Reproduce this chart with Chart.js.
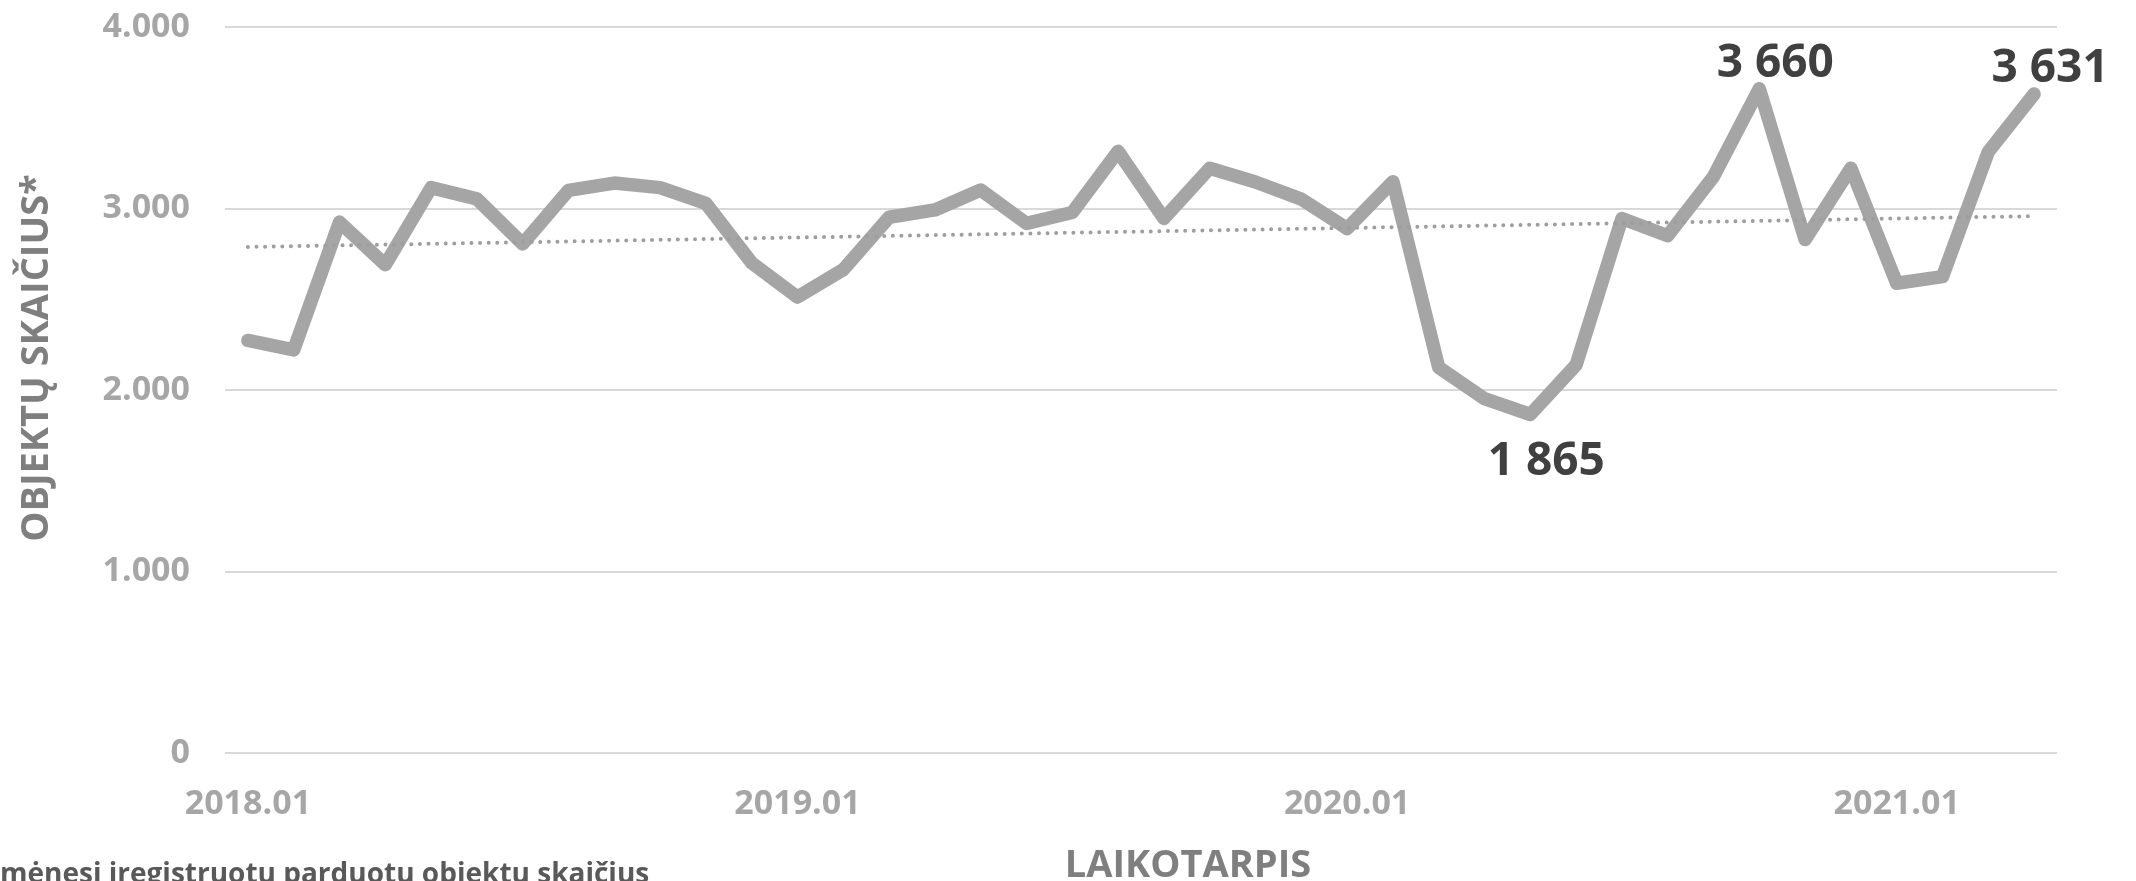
<!DOCTYPE html>
<html lang="lt">
<head>
<meta charset="utf-8">
<title>Objektų skaičius</title>
<script src="https://cdn.jsdelivr.net/npm/chart.js@4.4.1/dist/chart.umd.min.js"></script>
<style>
  html, body { margin: 0; padding: 0; background: #fff; }
  #wrap { width: 2136px; height: 881px; }
</style>
</head>
<body>
<div id="wrap"><canvas id="objektaiChart" width="2136" height="881"></canvas></div>
<script>
// ================================================
//  Per mėnesį įregistruotų parduotų objektų skaičius
// ================================================

const MENESIAI = [
    '2018.01', '2018.02', '2018.03', '2018.04', '2018.05', '2018.06',
    '2018.07', '2018.08', '2018.09', '2018.10', '2018.11', '2018.12',
    '2019.01', '2019.02', '2019.03', '2019.04', '2019.05', '2019.06',
    '2019.07', '2019.08', '2019.09', '2019.10', '2019.11', '2019.12',
    '2020.01', '2020.02', '2020.03', '2020.04', '2020.05', '2020.06',
    '2020.07', '2020.08', '2020.09', '2020.10', '2020.11', '2020.12',
    '2021.01', '2021.02', '2021.03', '2021.04'
];

const OBJEKTAI = [
    2273, 2221, 2925, 2690, 3115, 3053, 2805, 3100, 3140, 3115, 3028, 2700,
    2512, 2663, 2952, 2992, 3102, 2918, 2978, 3315, 2945, 3222, 3146, 3052,
    2890, 3148, 2125, 1952, 1865, 2138, 2945, 2850, 3176, 3660, 2829, 3222,
    2588, 2625, 3312, 3631
];

// linijinio trendo pradžia ir pabaiga (taškinė linija)
const TRENDAS = [2788, 2958];

// taškai, prie kurių parašyta reikšmė
const ZYMIMI = [28, 33, 39];

const Y_MIN = 0, Y_MAX = 4000, Y_ZINGSNIS = 1000;

const SPALVA_LINIJA = '#a5a5a5';
const SPALVA_ASIS   = '#a6a6a6';
const SPALVA_PAV    = '#7f7f7f';

const tukst = (v, sep) => String(v).replace(/\B(?=(\d{3})+(?!\d))/g, sep);

// ------------------------------------------------
// Reikšmių užrašai ir ašių pavadinimai
// ------------------------------------------------
const zymesPlugin = {
    id: 'zymes',
    afterDatasetsDraw(chart) {
        const ctx = chart.ctx;
        const meta = chart.getDatasetMeta(0);
        ctx.save();
        ctx.font = 'bold 46px "Open Sans"';
        ctx.fillStyle = '#404040';
        ctx.textAlign = 'center';
        ctx.textBaseline = 'alphabetic';
        ZYMIMI.forEach(i => {
            const pt = meta.data[i];
            const v = OBJEKTAI[i];
            const zemiau = i > 0 && i < OBJEKTAI.length - 1 &&
                v < OBJEKTAI[i - 1] && v < OBJEKTAI[i + 1];
            ctx.fillText(tukst(v, ' '), pt.x + 16, zemiau ? pt.y + 60 : pt.y - 12);
        });
        ctx.restore();
    },
    afterDraw(chart) {
        const ctx = chart.ctx;
        ctx.save();
        ctx.fillStyle = SPALVA_PAV;
        ctx.font = 'bold 38px "Open Sans"';
        ctx.textAlign = 'center';

        // Y ašies pavadinimas
        ctx.save();
        ctx.translate(37, 358);
        ctx.rotate(-Math.PI / 2);
        ctx.textBaseline = 'middle';
        ctx.fillText('OBJEKTŲ SKAIČIUS*', 0, 0);
        ctx.restore();

        // X ašies pavadinimas
        ctx.textBaseline = 'alphabetic';
        ctx.fillText('LAIKOTARPIS', 1188, 877);

        // išnaša (apkirpta kairėje ir apačioje)
        ctx.font = 'bold 28px "Open Sans"';
        ctx.fillStyle = '#595959';
        ctx.textAlign = 'left';
        ctx.fillText('mėnesį įregistruotų parduotų objektų skaičius', 0, 883);
        ctx.restore();
    }
};

// ------------------------------------------------
// Grafikas
// ------------------------------------------------
const trendoDuomenys = MENESIAI.map((_, i) =>
    i === 0 ? TRENDAS[0] : (i === MENESIAI.length - 1 ? TRENDAS[1] : null));

new Chart(document.getElementById('objektaiChart').getContext('2d'), {
    type: 'line',
    data: {
        labels: MENESIAI,
        datasets: [
            {
                label: 'Objektų skaičius',
                data: OBJEKTAI,
                borderColor: SPALVA_LINIJA,
                borderWidth: 13.5,
                borderJoinStyle: 'round',
                borderCapStyle: 'round',
                pointRadius: 0,
                pointHoverRadius: 0,
                tension: 0,
                fill: false,
                order: 1
            },
            {
                label: 'Trendas',
                data: trendoDuomenys,
                spanGaps: true,
                borderColor: '#9e9e9e',
                borderWidth: 4,
                borderDash: [0, 8.6],
                borderCapStyle: 'round',
                pointRadius: 0,
                pointHoverRadius: 0,
                fill: false,
                order: 0
            }
        ]
    },
    options: {
        responsive: false,
        animation: false,
        layout: { padding: { left: 0, right: 79, top: 27, bottom: 0 } },
        plugins: {
            legend: { display: false },
            tooltip: { enabled: false }
        },
        scales: {
            x: {
                offset: true,
                grid: { display: false, drawTicks: false },
                border: { display: false },
                ticks: {
                    autoSkip: false,
                    maxRotation: 0,
                    minRotation: 0,
                    padding: 31,
                    color: SPALVA_ASIS,
                    font: { family: 'Open Sans', size: 34, weight: 'bold' },
                    callback: (v, i) => MENESIAI[i].endsWith('.01') ? MENESIAI[i] : ''
                },
                afterFit: s => { s.height = 128; }
            },
            y: {
                min: Y_MIN,
                max: Y_MAX,
                grid: { color: '#d9d9d9', lineWidth: 2, drawTicks: false },
                border: { display: false },
                ticks: {
                    stepSize: Y_ZINGSNIS,
                    padding: 35,
                    color: SPALVA_ASIS,
                    font: { family: 'Open Sans', size: 34, weight: 'bold' },
                    callback: v => tukst(v, '.')
                },
                afterFit: s => {
                    s.width = 225;
                    s.paddingTop = 0;
                    s.paddingBottom = 0;
                }
            }
        }
    },
    plugins: [zymesPlugin]
});
</script>
</body>
</html>
